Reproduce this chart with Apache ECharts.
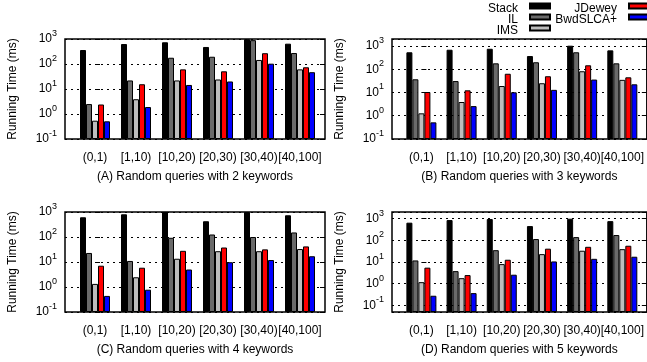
<!DOCTYPE html>
<html><head><meta charset="utf-8">
<script src="https://cdn.jsdelivr.net/npm/echarts@6/dist/echarts.min.js"></script>
<style>html,body{margin:0;padding:0;background:#fff}#c{width:647px;height:362px}</style>
</head><body><div id="c"></div>
<script>
const categories = ['(0,1)', '[1,10)', '[10,20)', '[20,30)', '[30,40)', '[40,100]'];
const seriesNames = ['Stack', 'IL', 'IMS', 'JDewey', 'BwdSLCA+'];
const panelTitles = [
  '(A) Random queries with 2 keywords',
  '(B) Random queries with 3 keywords',
  '(C) Random queries with 4 keywords',
  '(D) Random queries with 5 keywords'
];
const yAxisTitle = 'Running Time (ms)';

// Panel A: 2 keywords
const a_stack  = [363, 630, 740, 480, 980, 650];
const a_il     = [2.5, 22, 178, 195, 900, 275];
const a_ims    = [0.54, 3.9, 22, 24, 145, 61];
const a_jdewey = [2.4, 15.5, 61, 51, 270, 74];
const a_bwd    = [0.51, 1.9, 14.5, 20, 103, 47];
// Panel B: 3 keywords
const b_stack  = [537, 690, 760, 370, 1030, 650];
const b_il     = [37, 31, 180, 200, 537, 180];
const b_ims    = [1.27, 3.9, 19, 25, 82, 35];
const b_jdewey = [10.5, 12.4, 64, 50, 148, 45];
const b_bwd    = [0.52, 2.6, 10.2, 13, 36, 22.5];
// Panel C: 4 keywords
const c_stack  = [615, 810, 1000, 427, 1000, 740];
const c_il     = [23, 11, 93, 126, 100, 152];
const c_ims    = [1.33, 2.45, 13.5, 27, 27, 33];
const c_jdewey = [7.1, 5.9, 28, 38, 32, 42];
const c_bwd    = [0.44, 0.78, 5, 9.8, 12, 17];
// Panel D: 5 keywords
const d_stack  = [645, 850, 950, 450, 980, 760];
const d_il     = [11.8, 3.8, 35, 114, 140, 174];
const d_ims    = [1.18, 1.8, 8, 23, 33, 39];
const d_jdewey = [5.5, 2.5, 12.7, 41, 50, 56];
const d_bwd    = [0.28, 0.37, 2.6, 10.6, 14, 17.5];

const panelData = [
  [a_stack, a_il, a_ims, a_jdewey, a_bwd],
  [b_stack, b_il, b_ims, b_jdewey, b_bwd],
  [c_stack, c_il, c_ims, c_jdewey, c_bwd],
  [d_stack, d_il, d_ims, d_jdewey, d_bwd]
];
const yMins = [0.1, 0.1, 0.1, 0.05];
const yMaxs = [1000, 2000, 1000, 2000];

const colors = ['#000000', '#6a6a6a', '#bdbdbd', '#ff0000', '#0000ff'];
const FONT = '"Liberation Sans", Arial, Helvetica, sans-serif';
const gridPos = [
  {left: 65, top: 39}, {left: 392, top: 39},
  {left: 65, top: 212}, {left: 392, top: 212}
];
const GW = 260, GH = 100, BAND = 41;
const xMin = -30 / BAND, xMax = xMin + GW / BAND;
// legend slots: [right offset, top offset] for each series name
const legendSlots = [[96, -3], [96, 8], [96, 19], [-3, -3], [-3, 8]];

function supLabel(v) {
  const e = Math.log10(v);
  const r = Math.round(e);
  if (Math.abs(e - r) > 1e-6) return '';
  return '{b|10}{s|' + r + '}';
}

const grids = [], xAxes = [], yAxes = [], series = [];
for (let p = 0; p < 4; p++) {
  grids.push({left: gridPos[p].left, top: gridPos[p].top, width: GW, height: GH,
    show: true, borderColor: '#000', borderWidth: 1.5, backgroundColor: 'transparent'});
  xAxes.push({
    type: 'value', gridIndex: p, min: xMin, max: xMax,
    name: panelTitles[p], nameLocation: 'middle', nameGap: 32,
    nameTextStyle: {fontFamily: FONT, fontSize: 12, color: '#000'},
    axisLine: {show: false}, axisTick: {show: false}, splitLine: {show: false},
    axisLabel: {customValues: [0, 1, 2, 3, 4, 5], formatter: v => categories[Math.round(v)],
      margin: 13, fontFamily: FONT, fontSize: 12, color: '#000', showMinLabel: true, showMaxLabel: true}
  });
  yAxes.push({
    type: 'log', gridIndex: p, min: yMins[p], max: yMaxs[p], startValue: yMins[p], logBase: 10,
    name: yAxisTitle, nameLocation: 'middle', nameGap: 46, nameRotate: 90,
    nameTextStyle: {fontFamily: FONT, fontSize: 12, color: '#000'},
    axisLine: {show: false},
    axisTick: {show: true, inside: true, length: 5, lineStyle: {color: '#000', width: 1}},
    splitLine: {show: true, lineStyle: {type: [2, 4], color: '#000', width: 1}},
    minorTick: {show: false},
    axisLabel: {formatter: supLabel, margin: 8, fontFamily: FONT, color: '#000',
      rich: {b: {fontSize: 12, lineHeight: 20, fontFamily: FONT, color: '#000'},
             s: {fontSize: 9, lineHeight: 8, verticalAlign: 'top', fontFamily: FONT, color: '#000'}}}
  });
  yAxes.push({
    type: 'log', gridIndex: p, min: yMins[p], max: yMaxs[p], logBase: 10, position: 'right',
    axisLine: {show: false},
    axisTick: {show: true, inside: true, length: 5, lineStyle: {color: '#000', width: 1}},
    splitLine: {show: false}, axisLabel: {show: false}
  });
  for (let s = 0; s < 5; s++) {
    series.push({
      type: 'bar', name: seriesNames[s], xAxisIndex: p, yAxisIndex: p * 2,
      barWidth: 6, barGap: '0%',
      data: panelData[p][s].map((v, i) => [i, v]),
      itemStyle: {color: colors[s], borderColor: '#000', borderWidth: 1},
      emphasis: {disabled: true}, silent: true
    });
  }
}

const legends = seriesNames.map((n, i) => ({
  orient: 'vertical', align: 'right', itemWidth: 20, itemHeight: 5,
  selectedMode: false, icon: 'rect', padding: 0,
  data: [n], right: legendSlots[i][0], top: legendSlots[i][1],
  formatter: '\n{name}',
  textStyle: {fontFamily: FONT, fontSize: 12, color: '#000', lineHeight: 6, padding: [0, 7, 0, 0]}
}));

const chart = echarts.init(document.getElementById('c'), null, {renderer: 'canvas'});
chart.setOption({
  animation: false,
  color: colors,
  legend: legends,
  grid: grids, xAxis: xAxes, yAxis: yAxes, series: series
});
</script></body></html>
